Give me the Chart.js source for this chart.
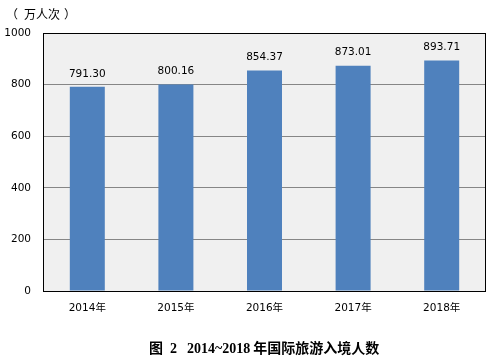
<!DOCTYPE html>
<html><head><meta charset="utf-8">
<script src="https://cdn.jsdelivr.net/npm/chart.js@4.4.1/dist/chart.umd.min.js"></script>
<style>html,body{margin:0;padding:0;background:#fff;}#wrap{width:496px;height:361px;}</style>
</head><body><div id="wrap"><canvas id="c" width="496" height="361"></canvas></div>
<script>
const categories = ["2014年", "2015年", "2016年", "2017年", "2018年"];
const values = [791.30, 800.16, 854.37, 873.01, 893.71];
const valueLabels = ["791.30", "800.16", "854.37", "873.01", "893.71"];
const unitParts = ["（", "万人次", "）"];
const titleParts = ["图", "2", "2014~2018", "年国际旅游入境人数"];

const FONT = '"DejaVu Sans", "Noto Sans CJK SC", sans-serif';

const plotDeco = {
  id: 'plotDeco',
  beforeDraw(chart) {
    const {ctx, chartArea: a} = chart;
    ctx.save();
    ctx.fillStyle = '#f0f0f0';
    ctx.fillRect(a.left, a.top, a.right - a.left, a.bottom - a.top);
    ctx.restore();
  },
  afterDraw(chart) {
    const {ctx, chartArea: a} = chart;
    ctx.save();
    ctx.strokeStyle = '#000';
    ctx.lineWidth = 1;
    ctx.strokeRect(Math.round(a.left) + 0.5, Math.round(a.top) + 0.5, Math.round(a.right - a.left) - 1, Math.round(a.bottom - a.top));
    // value labels
    const meta = chart.getDatasetMeta(0);
    ctx.fillStyle = '#000';
    ctx.font = '10.5px ' + FONT;
    ctx.textAlign = 'center';
    ctx.textBaseline = 'middle';
    meta.data.forEach((bar, i) => {
      ctx.fillText(valueLabels[i], bar.x, bar.y - 13);
    });
    // unit label
    ctx.font = '12px "Noto Sans CJK SC", sans-serif';
    ctx.textAlign = 'left';
    ctx.fillText(unitParts[0], 6, 14);
    ctx.fillText(unitParts[1], 24, 14);
    ctx.fillText(unitParts[2], 64, 14);
    // title
    ctx.font = 'bold 14px "Liberation Serif", "Noto Sans CJK SC", serif';
    ctx.fillText(titleParts[0], 149, 349);
    ctx.fillText(titleParts[1], 170, 349);
    ctx.fillText(titleParts[2], 187, 349);
    const w = ctx.measureText(titleParts[2]).width;
    ctx.fillText(titleParts[3], 187 + w + 3, 349);
    ctx.restore();
  }
};

new Chart(document.getElementById('c'), {
  type: 'bar',
  data: {
    labels: categories,
    datasets: [{
      data: values,
      backgroundColor: '#4f81bd',
      borderWidth: 0,
      barPercentage: 0.395,
      categoryPercentage: 1.0
    }]
  },
  options: {
    responsive: false,
    animation: false,
    devicePixelRatio: 1,
    layout: { padding: { top: 33, right: 10, left: 0, bottom: 0 } },
    plugins: { legend: { display: false }, tooltip: { enabled: false }, title: { display: false } },
    scales: {
      x: {
        grid: { display: false, drawTicks: false },
        border: { display: false },
        ticks: { color: '#000', font: { size: 10.5, family: FONT }, padding: 11, maxRotation: 0 },
        afterFit(s) { s.height = 70; }
      },
      y: {
        min: 0, max: 1000,
        grid: { color: '#868686', drawTicks: false, lineWidth: 1 },
        border: { display: false },
        ticks: { stepSize: 200, color: '#000', font: { size: 10.5, family: FONT }, padding: 12,
          callback: (v) => String(v) },
        afterFit(s) { s.width = 43; }
      }
    }
  },
  plugins: [plotDeco]
});
</script></body></html>
